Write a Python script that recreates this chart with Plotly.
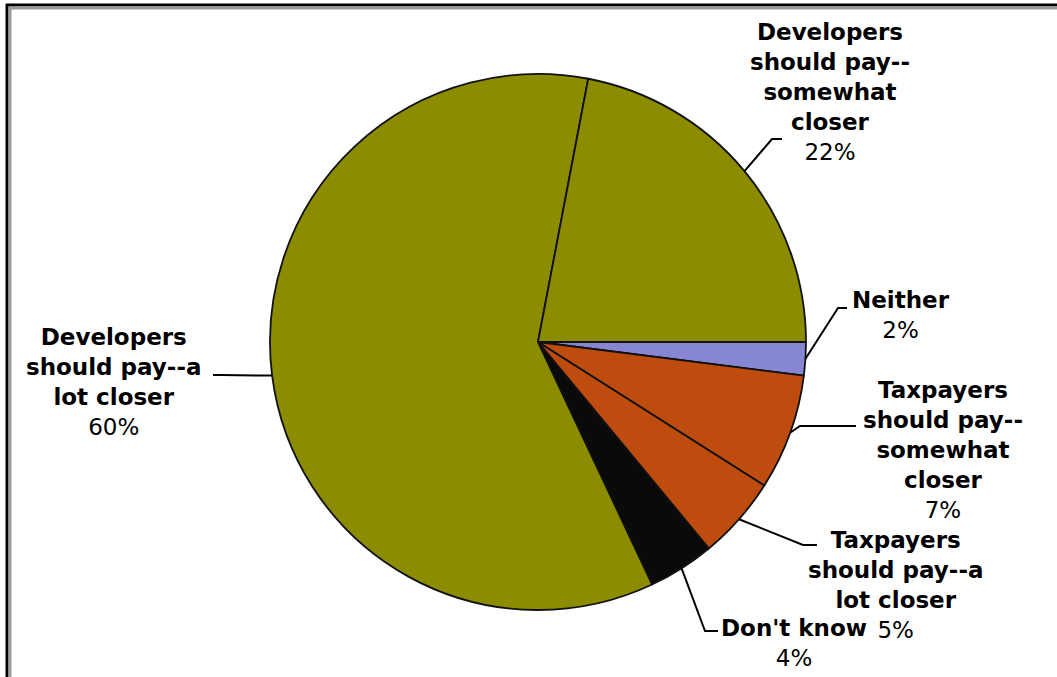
import math
import plotly.graph_objects as go

# ---- data ----
labels = [
    "Neither",
    "Taxpayers should pay--somewhat closer",
    "Taxpayers should pay--a lot closer",
    "Don't know",
    "Developers should pay--a lot closer",
    "Developers should pay--somewhat closer",
]
label_lines = [
    ["Neither"],
    ["Taxpayers", "should pay--", "somewhat", "closer"],
    ["Taxpayers", "should pay--a", "lot closer"],
    ["Don't know"],
    ["Developers", "should pay--a", "lot closer"],
    ["Developers", "should pay--", "somewhat", "closer"],
]
values = [2, 7, 5, 4, 60, 22]
colors = ["#8686D2", "#BE4C0E", "#BE4C0E", "#0A0A0A", "#8C8C00", "#8C8C00"]

# ---- layout / styling ----
W, H = 1057, 677
CX, CY, R = 538, 342, 268
ROT = 90  # first slice starts at 3 o'clock, clockwise
FONT = "DejaVu Sans, Verdana, sans-serif"
FS = 23

# label placement (pixel): text center, elbow point, line end point
label_layout = [
    dict(tx=901, ty=315, elbow=(838, 308), end=(847, 308)),
    dict(tx=943, ty=450, elbow=(800, 426), end=(856, 426)),
    dict(tx=895, ty=585, elbow=(803, 545), end=(817, 545)),
    dict(tx=794, ty=643, elbow=(705, 631), end=(718, 631)),
    dict(tx=113, ty=382, elbow=(222, 375), end=(213, 375)),
    dict(tx=830, ty=92, elbow=(772, 139), end=(782, 139)),
]


def px(x):
    return x / W


def py(y):
    return 1 - y / H


fig = go.Figure()
fig.add_trace(go.Pie(
    labels=labels,
    values=values,
    sort=False,
    direction="clockwise",
    rotation=ROT,
    textinfo="none",
    marker=dict(colors=colors, line=dict(color="#111111", width=1.8)),
    domain=dict(x=[px(CX - R), px(CX + R)], y=[py(CY + R), py(CY - R)]),
    showlegend=False,
    hoverinfo="label+percent",
))

total = sum(values)
cum = 0.0
shapes = []
annotations = []
for i, v in enumerate(values):
    mid = ROT + (cum + v / 2) / total * 360.0
    cum += v
    th = math.radians(mid)
    ex = CX + R * math.sin(th)
    ey = CY - R * math.cos(th)
    lay = label_layout[i]
    (bx, by), (fx, fy) = lay["elbow"], lay["end"]
    path = f"M {px(ex)} {py(ey)} L {px(bx)} {py(by)} L {px(fx)} {py(fy)}"
    shapes.append(dict(type="path", xref="paper", yref="paper", path=path,
                       line=dict(color="black", width=2)))
    pct = round(v / total * 100)
    txt = "<b>" + "<br>".join(label_lines[i]) + "</b><br>" + f"{pct}%"
    annotations.append(dict(
        x=px(lay["tx"]), y=py(lay["ty"]), xref="paper", yref="paper",
        text=txt, showarrow=False, xanchor="center", yanchor="middle",
        align="center", font=dict(family=FONT, size=FS, color="black"),
    ))

# chart frame (double line: black outer, grey inner)
shapes += [
    dict(type="line", xref="paper", yref="paper", x0=px(7), x1=px(7), y0=py(4), y1=0,
         line=dict(color="black", width=3)),
    dict(type="line", xref="paper", yref="paper", x0=px(10), x1=px(10), y0=py(7), y1=0,
         line=dict(color="#9a9a9a", width=3)),
    dict(type="line", xref="paper", yref="paper", x0=px(6), x1=1, y0=py(5), y1=py(5),
         line=dict(color="black", width=3)),
    dict(type="line", xref="paper", yref="paper", x0=px(9), x1=1, y0=py(8), y1=py(8),
         line=dict(color="#9a9a9a", width=3)),
]

fig.update_layout(
    width=W, height=H,
    margin=dict(l=0, r=0, t=0, b=0),
    paper_bgcolor="white", plot_bgcolor="white",
    shapes=shapes, annotations=annotations,
)

fig.write_html("out.html")
